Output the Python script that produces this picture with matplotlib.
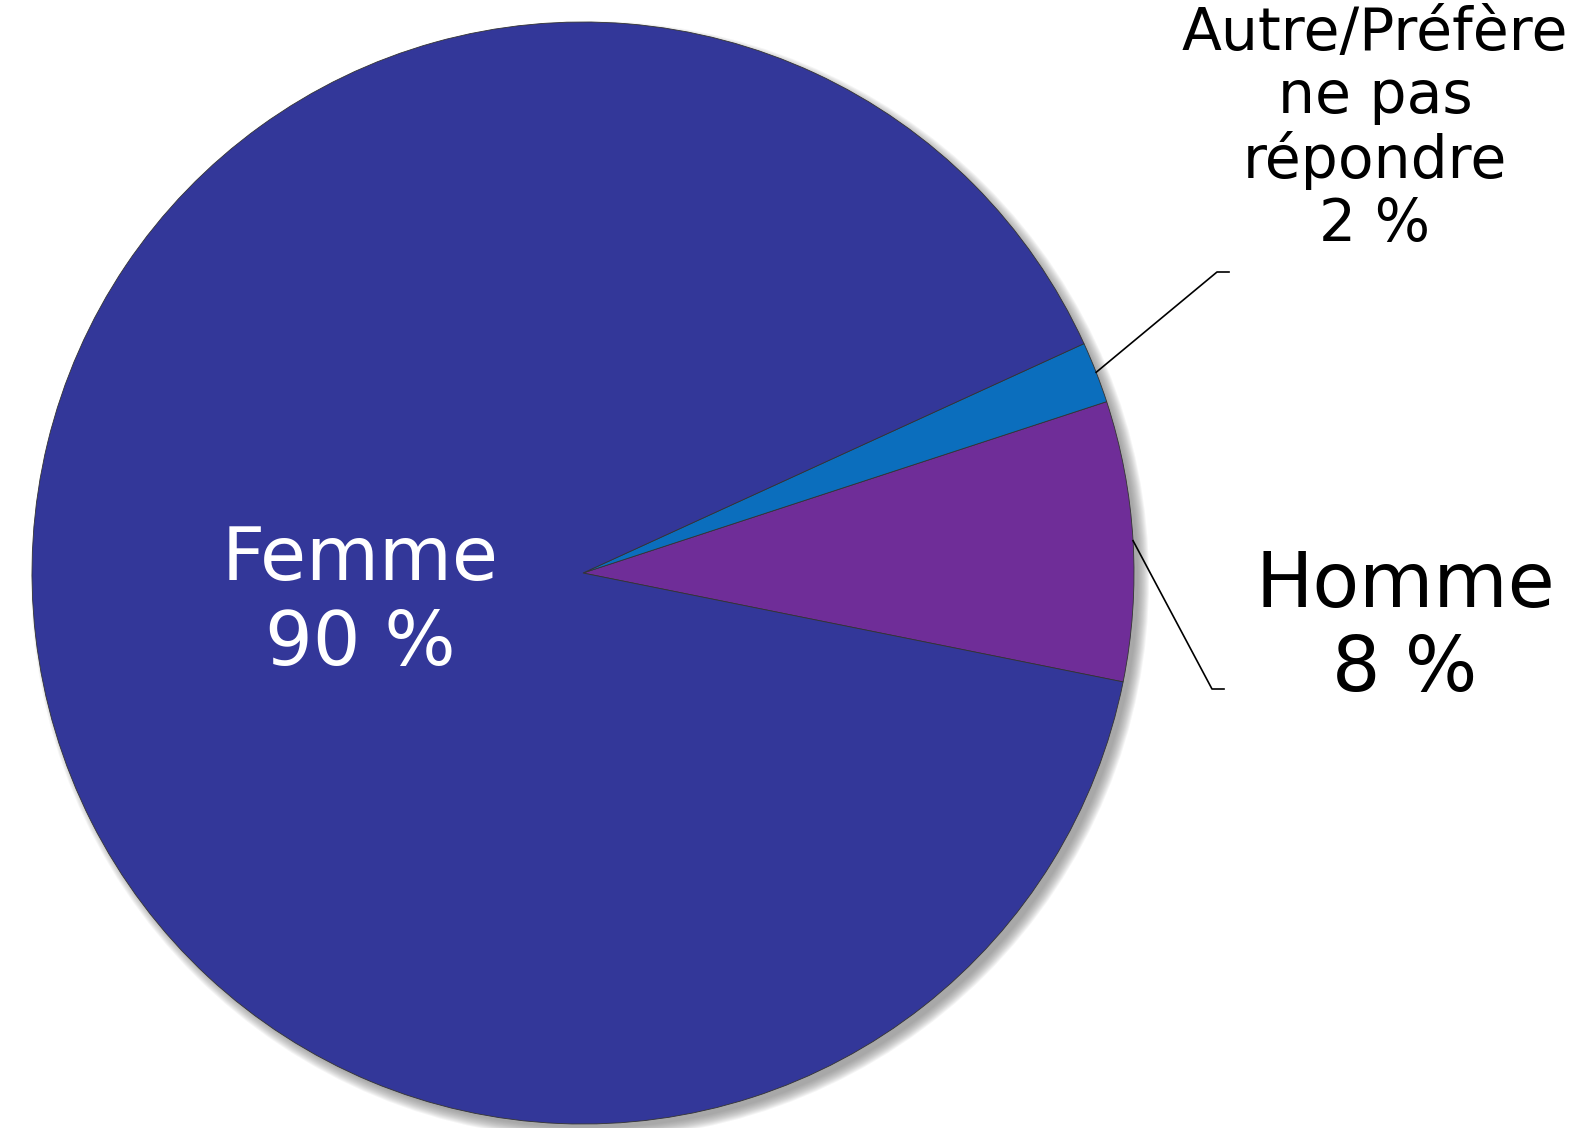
import matplotlib.pyplot as plt
import numpy as np
from matplotlib.patches import Circle

# Répartition par genre (%)
labels = ["Homme", "Autre/Préfère\nne pas\nrépondre", "Femme"]
values = [8.2, 1.8, 90.0]
shown = ["8 %", "2 %", "90 %"]
colours = ["#6f2d98", "#0b6ebd", "#333799"]

W, H = 1583, 1128
fig = plt.figure(figsize=(W / 100, H / 100), dpi=100)
ax = fig.add_axes([0, 0, 1, 1])
ax.set_xlim(0, W)
ax.set_ylim(0, H)
ax.set_aspect("equal")
ax.axis("off")

cx, cy, r = 583, H - 573, 551

# soft drop shadow (bottom-right)
for k in range(12):
    ax.add_patch(Circle((cx + 7, cy - 7), r + 8 - k, color="#7a7a7a",
                        alpha=0.08, lw=0, zorder=0))

wedges, _ = ax.pie(values, colors=colours, startangle=-11.4,
                   counterclock=True, center=(cx, cy), radius=r,
                   frame=True,
                   wedgeprops=dict(edgecolor="#333333", linewidth=0.6))
ax.set_xlim(0, W)
ax.set_ylim(0, H)
ax.axis("off")

# Femme label inside
ax.text(360, H - 602, f"{labels[2]}\n{shown[2]}", color="white",
        ha="center", va="center", fontsize=54, linespacing=1.21)

# leader lines from the middle of each small wedge
elbows = {0: (1212, H - 689), 1: (1217, H - 272)}
for i, (ex, ey) in elbows.items():
    w = wedges[i]
    a = np.deg2rad((w.theta1 + w.theta2) / 2)
    px, py = cx + r * np.cos(a), cy + r * np.sin(a)
    ax.plot([px, ex, ex + 12], [py, ey, ey], color="black", lw=1.2)

ax.text(1405, H - 628, f"{labels[0]}\n{shown[0]}", color="black",
        ha="center", va="center", fontsize=55, linespacing=1.18)
ax.text(1375, H - 129, f"{labels[1]}\n{shown[1]}", color="black",
        ha="center", va="center", fontsize=42, linespacing=1.13)

fig.savefig("out.png", dpi=100, facecolor="white")
